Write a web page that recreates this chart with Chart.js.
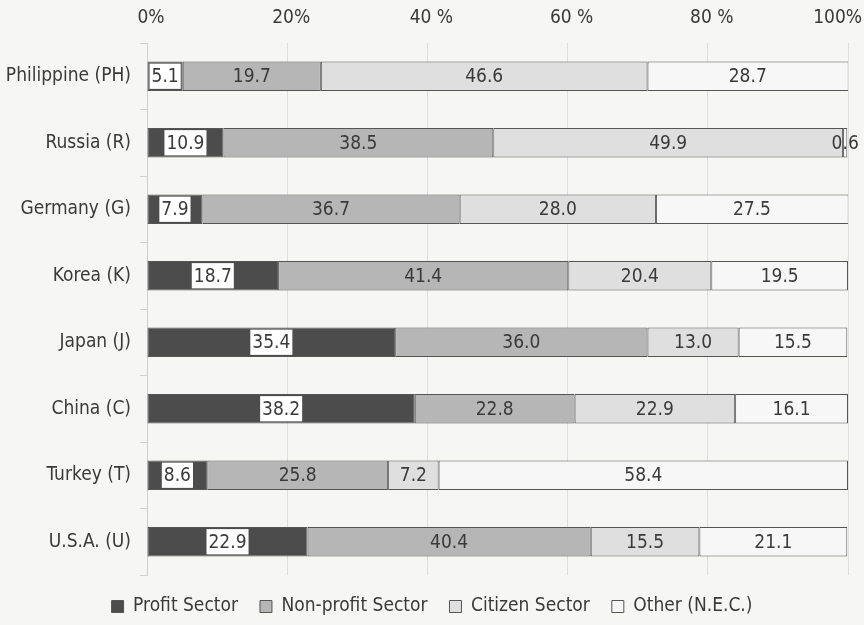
<!DOCTYPE html>
<html>
<head>
<meta charset="utf-8">
<script src="https://cdn.jsdelivr.net/npm/chart.js@4/dist/chart.umd.min.js"></script>
<style>
  html, body { margin: 0; padding: 0; background: #f6f6f5; }
  #wrap { width: 864px; height: 625px; }
</style>
</head>
<body>
<div id="wrap"><canvas id="myChart" width="864" height="625"></canvas></div>
<script>
// countries, top to bottom
const countries = ['Philippine (PH)', 'Russia (R)', 'Germany (G)', 'Korea (K)', 'Japan (J)', 'China (C)', 'Turkey (T)', 'U.S.A. (U)'];

// shares in percent
const profit = [5.1, 10.9, 7.9, 18.7, 35.4, 38.2, 8.6, 22.9];
const nonProfit = [19.7, 38.5, 36.7, 41.4, 36.0, 22.8, 25.8, 40.4];
const citizen = [46.6, 49.9, 28.0, 20.4, 13.0, 22.9, 7.2, 15.5];
const other = [28.7, 0.6, 27.5, 19.5, 15.5, 16.1, 58.4, 21.1];

const tickValues = [0, 20, 40, 60, 80, 100];
const tickLabels = ['0%', '20%', '40 %', '60 %', '80 %', '100%'];

const fontFam = "'Liberation Sans Narrow', 'DejaVu Sans Condensed', sans-serif";

// numbers inside the bars, profit values get a white box
const barLabels = {
  id: 'barLabels',
  afterDatasetsDraw(chart) {
    const ctx = chart.ctx;
    ctx.save();
    ctx.font = '19px ' + fontFam;
    ctx.textAlign = 'center';
    ctx.textBaseline = 'middle';
    chart.data.datasets.forEach(function (ds, i) {
      const meta = chart.getDatasetMeta(i);
      meta.data.forEach(function (bar, j) {
        const txt = ds.data[j].toFixed(1);
        const right = Math.min(bar.x, chart.chartArea.right);
        const cx = (bar.base + right) / 2;
        if (i == 0) {
          const w = ctx.measureText(txt).width + 4;
          ctx.fillStyle = '#ffffff';
          ctx.fillRect(cx - w / 2, bar.y - bar.height / 2 + 2, w, bar.height - 4);
        }
        ctx.fillStyle = '#3a3a3a';
        ctx.fillText(txt, cx, bar.y + 1);
      });
    });

    // percent labels along the top, placed from the x scale
    const xs = chart.scales.x;
    tickValues.forEach(function (v, k) {
      const txt = tickLabels[k];
      const w = ctx.measureText(txt).width;
      const cx = Math.min(xs.getPixelForValue(v) + 4, chart.width - 2 - w / 2);
      ctx.fillText(txt, cx, 18);
    });
    ctx.restore();
  }
};

const data = {
  labels: countries,
  datasets: [
    { label: 'Profit Sector', data: profit, backgroundColor: '#4c4c4c' },
    { label: 'Non-profit Sector', data: nonProfit, backgroundColor: '#b6b6b6' },
    { label: 'Citizen Sector', data: citizen, backgroundColor: '#dfdfdf' },
    { label: 'Other (N.E.C.)', data: other, backgroundColor: '#f7f7f7' }
  ]
};
data.datasets.forEach(function (ds) {
  ds.borderColor = '#555555';
  ds.borderWidth = 1;
  ds.borderSkipped = false;
  ds.barPercentage = 0.44;
  ds.categoryPercentage = 1;
});

const config = {
  type: 'bar',
  data: data,
  plugins: [barLabels],
  options: {
    indexAxis: 'y',
    responsive: false,
    animation: false,
    layout: { padding: { left: 0, right: 0, top: 0, bottom: -1 } },
    scales: {
      x: {
        stacked: true,
        position: 'top',
        min: 0,
        max: 100,
        afterFit: function (scale) {
          scale.height = 43;
          scale.paddingRight = 16;
          scale.paddingLeft = 0;
        },
        ticks: { stepSize: 20, display: false },
        grid: { color: '#dedede', drawTicks: false },
        border: { display: false }
      },
      y: {
        stacked: true,
        afterFit: function (scale) { scale.width = 147; },
        ticks: {
          padding: 9,
          color: '#3a3a3a',
          font: { family: fontFam, size: 19 }
        },
        grid: { offset: true, drawOnChartArea: false, tickLength: 7, color: '#cfcfcf' },
        border: { color: '#cfcfcf' }
      }
    },
    plugins: {
      tooltip: { enabled: false },
      legend: {
        position: 'bottom',
        labels: {
          boxWidth: 12,
          boxHeight: 12,
          padding: 22,
          color: '#3a3a3a',
          font: { family: fontFam, size: 19 }
        }
      }
    }
  }
};
const myChart = new Chart(document.getElementById('myChart'), config);
</script>
</body>
</html>
